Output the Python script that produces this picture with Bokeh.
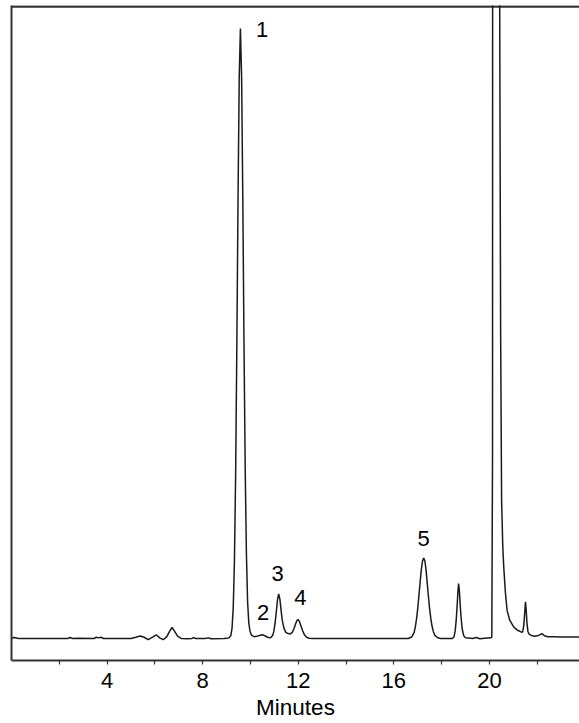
from bokeh.plotting import figure
from bokeh.models import FixedTicker, Range1d, ColumnDataSource
from bokeh.core.properties import value
from bokeh.embed import file_html
from bokeh.resources import INLINE

# Chromatogram trace: time (min) and detector signal (relative units)
time_min = [
    0.0, 0.1, 0.3, 2.35, 2.46, 2.55, 2.75, 3.45, 3.55, 3.65, 3.75, 3.85,
    5.0, 5.2, 5.39, 5.55, 5.72, 5.85, 6.06, 6.2, 6.35, 6.5, 6.62, 6.72, 6.82, 6.95,
    7.1, 7.35, 7.55, 7.61, 7.7, 8.1, 8.24, 8.35, 8.9, 9.0,
    9.10, 9.18, 9.23, 9.28, 9.33, 9.38, 9.43, 9.48, 9.53, 9.58, 9.63, 9.68, 9.73,
    9.78, 9.83, 9.88, 9.93, 9.98, 10.05, 10.15, 10.25, 10.38, 10.49, 10.6, 10.72,
    10.83, 10.93, 10.98, 11.03, 11.08, 11.13, 11.18, 11.23, 11.28, 11.33, 11.40,
    11.48, 11.58, 11.67, 11.75, 11.82, 11.88, 11.94, 11.99, 12.05, 12.11, 12.18,
    12.26, 12.35, 12.45, 12.6,
    16.6, 16.75, 16.85, 16.9, 16.95, 17.0, 17.05, 17.1, 17.15, 17.2, 17.25, 17.3,
    17.35, 17.4, 17.45, 17.5, 17.55, 17.6, 17.65, 17.72, 17.82, 17.95,
    18.45, 18.52, 18.57, 18.61, 18.65, 18.68, 18.71, 18.74, 18.77, 18.81, 18.86,
    18.92, 19.0, 19.3, 19.45, 19.6, 19.8, 20.05, 20.10, 20.13, 20.14,
    20.42, 20.43, 20.47, 20.51, 20.56, 20.6, 20.67, 20.74, 20.85, 21.02, 21.2,
    21.37, 21.40, 21.44, 21.47, 21.51, 21.54, 21.57, 21.61, 21.66, 21.75, 21.9,
    22.05, 22.2, 22.3, 22.45, 22.7, 23.0, 23.77,
]
signal = [
    0.0, 0.15, 0.0, 0.0, 0.15, 0.0, 0.05, 0.0, 0.2, 0.1, 0.2, 0.0,
    0.0, 0.2, 0.4, 0.2, -0.2, 0.1, 0.6, 0.1, -0.2, 0.3, 1.2, 1.8, 1.2, 0.4,
    0.0, -0.05, 0.0, 0.15, 0.0, 0.0, 0.1, -0.05, 0.0, 0.05,
    0.1, 0.5, 1.7, 5.1, 12.7, 27.0, 48.0, 72.0, 92.0, 100.0, 92.0, 72.0, 48.0,
    28.0, 14.0, 6.0, 2.6, 1.2, 0.5, 0.3, 0.35, 0.5, 0.6, 0.45, 0.2,
    0.1, 0.5, 1.2, 2.5, 4.3, 6.3, 7.3, 6.5, 4.7, 3.0, 1.7,
    1.0, 0.8, 0.75, 1.0, 1.6, 2.3, 2.9, 3.1, 2.8, 2.1, 1.3,
    0.6, 0.2, 0.05, 0.0,
    0.0, 0.25, 1.0, 1.9, 3.2, 4.9, 7.0, 9.2, 11.3, 12.7, 13.2, 12.7,
    11.2, 9.0, 6.8, 4.8, 3.2, 2.0, 1.2, 0.5, 0.15, 0.0,
    0.0, 0.3, 1.3, 3.0, 5.4, 7.6, 9.0, 8.0, 6.0, 3.6, 1.6,
    0.5, 0.1, 0.0, 0.15, -0.05, 0.05, 0.1, 0.2, 30.0, 200.0,
    200.0, 104.0, 50.0, 22.6, 15.0, 11.7, 7.5, 4.6, 3.0, 1.85, 1.3,
    1.0, 1.2, 2.2, 3.8, 6.0, 4.6, 2.6, 1.2, 0.7, 0.5, 0.35,
    0.5, 0.8, 0.45, 0.3, 0.3, 0.25, 0.25,
]

# Labelled peaks
peak_labels = ["1", "2", "3", "4", "5"]
peak_time = [9.58, 10.49, 11.18, 11.99, 17.25]
peak_signal = [100.0, 0.6, 7.3, 3.1, 13.2]

# Axis ticks
major_ticks = [4, 8, 12, 16, 20]
minor_ticks = [2, 6, 10, 14, 18, 22]
x_label = "Minutes"

FONT = "Liberation Sans"
AXIS_COLOR = "#333333"
X_START, X_END = 0.0, 23.77
Y_START, Y_TOP = -3.61, 103.77
Y_BORDER = 103.60   # frame border drawn just inside the top edge

p = figure(
    width=579, height=723,
    x_range=Range1d(X_START, X_END), y_range=Range1d(Y_START, Y_TOP),
    output_backend="svg", toolbar_location=None,
    min_border_left=11, min_border_right=0, min_border_top=5, min_border_bottom=63,
    outline_line_color=None,
)
p.grid.visible = False

# bottom axis
xa = p.xaxis[0]
xa.ticker = FixedTicker(ticks=major_ticks, minor_ticks=minor_ticks)
xa.axis_label = x_label
xa.axis_label_text_font = FONT
xa.axis_label_text_font_size = "22.5px"
xa.axis_label_text_font_style = "normal"
xa.axis_label_text_color = "#000000"
xa.axis_label_standoff = 4
xa.major_label_text_font = FONT
xa.major_label_text_font_size = "22px"
xa.major_label_text_color = "#000000"
xa.major_label_standoff = 8
xa.axis_line_color = AXIS_COLOR
xa.axis_line_width = 1.8
xa.major_tick_line_color = AXIS_COLOR
xa.minor_tick_line_color = AXIS_COLOR
xa.major_tick_line_width = 1.2
xa.minor_tick_line_width = 1.2
xa.major_tick_in = 0
xa.major_tick_out = 4
xa.minor_tick_in = 0
xa.minor_tick_out = 4

# left axis: border line only
ya = p.yaxis[0]
ya.ticker = FixedTicker(ticks=[], minor_ticks=[])
ya.major_label_text_font_size = "0px"
ya.major_label_standoff = 0
ya.major_tick_out = 0
ya.minor_tick_out = 0
ya.axis_line_color = AXIS_COLOR
ya.axis_line_width = 2

# top border of the frame, drawn as an ordinary line along the top of the y range
p.line([X_START, X_END], [Y_BORDER, Y_BORDER], line_color=AXIS_COLOR, line_width=2.5)

p.line(time_min, signal, line_color="#1a1a1a", line_width=1.5)

src = ColumnDataSource(dict(
    t=peak_time, s=peak_signal, lab=peak_labels,
    dx=[21.6, 1.0, -1.0, 2.3, 0.0],
    dy=[1.0, -22.6, -20.0, -22.3, -19.0],
))
p.text("t", "s", text="lab", x_offset="dx", y_offset="dy", source=src,
       text_font=value(FONT), text_font_size="22px", text_color="#000000",
       text_align="center", text_baseline="middle")

open("out.html", "w").write(file_html(p, INLINE))
